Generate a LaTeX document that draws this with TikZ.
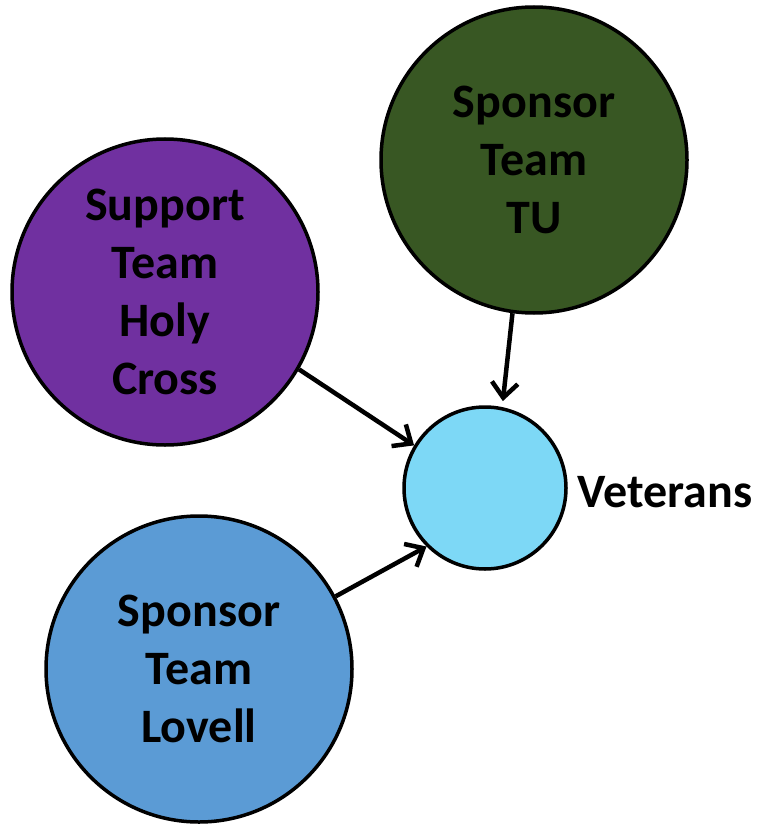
\documentclass[tikz,border=0pt]{standalone}
\usepackage{fontspec}
\setmainfont{Carlito}
\usetikzlibrary{arrows.meta,positioning}
\definecolor{tugreen}{HTML}{385723}
\definecolor{hcpurple}{HTML}{7030A0}
\definecolor{lovblue}{HTML}{5B9BD5}
\definecolor{vetblue}{HTML}{7DD8F6}
\begin{document}
\begin{tikzpicture}[x=1pt,y=-1pt,
    bigfont/.style={font=\fontsize{48}{58}\selectfont\bfseries},
    team/.style={circle,draw,line width=3.5pt,minimum size=306pt,inner sep=0pt,align=center,bigfont},
    link/.style={-{Straight Barb[length=15pt,width=26pt]},line width=4.5pt}]
      \useasboundingbox (0,0) rectangle (756,824);
      \node[team,fill=tugreen] (tu) at (534,160) {Sponsor\\Team\\TU};
      \node[team,fill=hcpurple] (holy) at (165,292) {Support\\Team\\Holy\\Cross};
      \node[team,fill=lovblue] (lovell) at (199,669) {Sponsor\\Team\\Lovell};
      \node[circle,draw,line width=3.5pt,minimum size=162pt,fill=vetblue] (vet) at (485,488) {};
      \node[right=10pt of vet,inner sep=0pt,yshift=-4pt,bigfont] (vetlabel) {Veterans};
      \draw[link,shorten >=6pt] (tu.262) -- (vet.78);
      \draw[link] (holy.330) -- (vet.149);
      \draw[link] (lovell.28) -- (vet.225);
    \end{tikzpicture}
\end{document}
